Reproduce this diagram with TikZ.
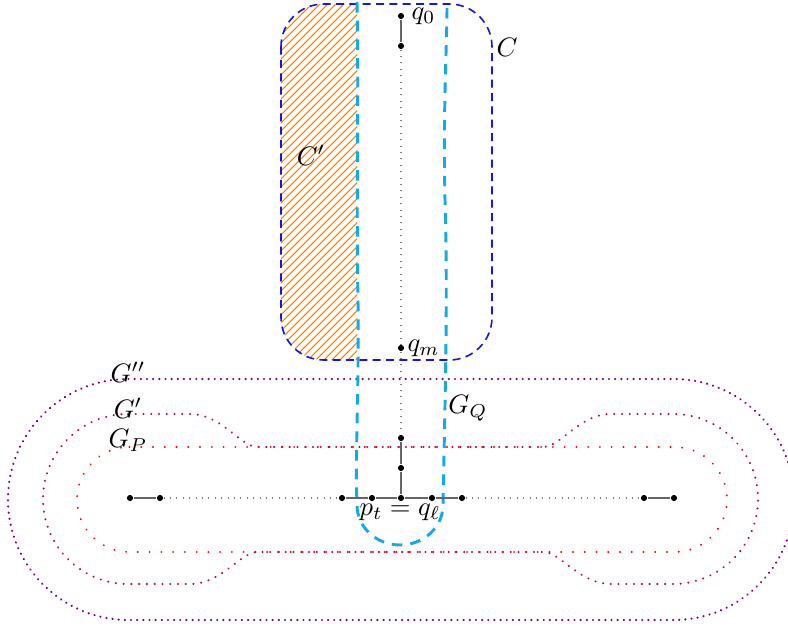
\documentclass[tikz,border=0pt]{standalone}
\usetikzlibrary{patterns}
\definecolor{gqcol}{RGB}{20,170,230}
\definecolor{gprimecol}{RGB}{190,0,90}
\definecolor{gppcol}{RGB}{128,0,128}
\definecolor{ccol}{RGB}{20,20,235}
\begin{document}
\begin{tikzpicture}[x=0.375pt,y=-0.375pt,
  pt/.style={circle,fill=black,inner sep=0pt,minimum size=2.3pt},
  seg/.style={draw=black!60,line width=0.8pt},
  dotseg/.style={draw=black!50,dotted,line width=0.4pt},
  gpline/.style={draw=red,line width=0.8pt,line cap=round,dash pattern=on 0.01pt off 4.4pt},
  gprline/.style={draw=gprimecol,line width=0.85pt,line cap=round,dash pattern=on 0.01pt off 2.9pt},
  gppline/.style={draw=gppcol,line width=0.9pt,line cap=round,dash pattern=on 0.01pt off 2.3pt},
  gqline/.style={draw=gqcol,line width=1.1pt,dash pattern=on 4pt off 3pt},
  cline/.style={draw=ccol,line width=0.6pt,dash pattern=on 3pt off 2pt,rounded corners=16pt},
  lab/.style={inner sep=0pt}]
\useasboundingbox (0,0) rectangle (788,628);
\clip (0,0) rectangle (788,628);
% G''
\draw[gppline] (128.5,379) -- (673.5,379) arc[start angle=-90,end angle=90,radius=120.5]
  -- (128.5,620) arc[start angle=90,end angle=270,radius=120.5] -- cycle;
% G'
\draw[gprline] (128,414) -- (190,414) .. controls (222,414) and (240,447) .. (258,447)
  -- (543,447) .. controls (561,447) and (579,414) .. (611,414) -- (673,414)
  arc[start angle=-90,end angle=90,radius=85]
  -- (611,584) .. controls (579,584) and (561,552) .. (543,552)
  -- (258,552) .. controls (240,552) and (222,584) .. (190,584) -- (128,584)
  arc[start angle=90,end angle=270,radius=85] -- cycle;
% G_P
\draw[gpline] (129.5,447) -- (674.5,447) arc[start angle=-90,end angle=90,radius=52.5]
  -- (129.5,552) arc[start angle=90,end angle=270,radius=52.5] -- cycle;
% C' hatch
\begin{scope}
  \clip (270,0) rectangle (357.5,370);
  \fill[pattern=north east lines,pattern color=orange,rounded corners=16pt] (281,4) rectangle (492,360);
\end{scope}
% C
\draw[cline] (281,4) rectangle (492,360);
% G_Q
\draw[gqline] (357,2) .. controls (359,100) and (356,200) .. (358,300)
  .. controls (359,400) and (355,450) .. (357,505)
  arc[start angle=180,end angle=0,x radius=43,y radius=40]
  .. controls (445,400) and (448,300) .. (445,200)
  .. controls (443,100) and (447,50) .. (447,5);
% points
\node[pt] (q0) at (401,16) {};
\node[pt] (a1) at (401,46) {};
\node[pt] (qm) at (401,348) {};
\node[pt] (v1) at (401,438) {};
\node[pt] (v2) at (401,468) {};
\node[pt] (c) at (401,498) {};
\node[pt] (L1) at (130,498) {};
\node[pt] (L2) at (160,498) {};
\node[pt] (h1) at (342,498) {};
\node[pt] (h2) at (372,498) {};
\node[pt] (h3) at (432,498) {};
\node[pt] (h4) at (462,498) {};
\node[pt] (R1) at (644,498) {};
\node[pt] (R2) at (674,498) {};
% lines
\draw[seg] (q0) -- (a1);
\draw[dotseg] (a1) -- (qm);
\draw[dotseg] (qm) -- (v1);
\draw[seg] (v1) -- (v2);
\draw[seg] (v2) -- (c);
\draw[seg] (L1) -- (L2);
\draw[dotseg] (L2) -- (h1);
\draw[seg] (h1) -- (h2);
\draw[seg] (h2) -- (c);
\draw[seg] (c) -- (h3);
\draw[seg] (h3) -- (h4);
\draw[dotseg] (h4) -- (R1);
\draw[seg] (R1) -- (R2);
% labels
\node[lab,anchor=west] (lq0) at (411,16) {$q_0$};
\node[lab,anchor=west] (lqm) at (407,348) {$q_m$};
\node[lab] (lC) at (507,47) {$C$};
\node[lab] (lCp) at (311,155) {$C'$};
\node[lab] (lGpp) at (128,372) {$G''$};
\node[lab] (lGp) at (128,408) {$G'$};
\node[lab] (lGP) at (128,440) {$G_P$};
\node[lab] (lGQ) at (468,408) {$G_Q$};
\node[lab] (lpq) at (400,512) {$p_t = q_\ell$};
\end{tikzpicture}
\end{document}
